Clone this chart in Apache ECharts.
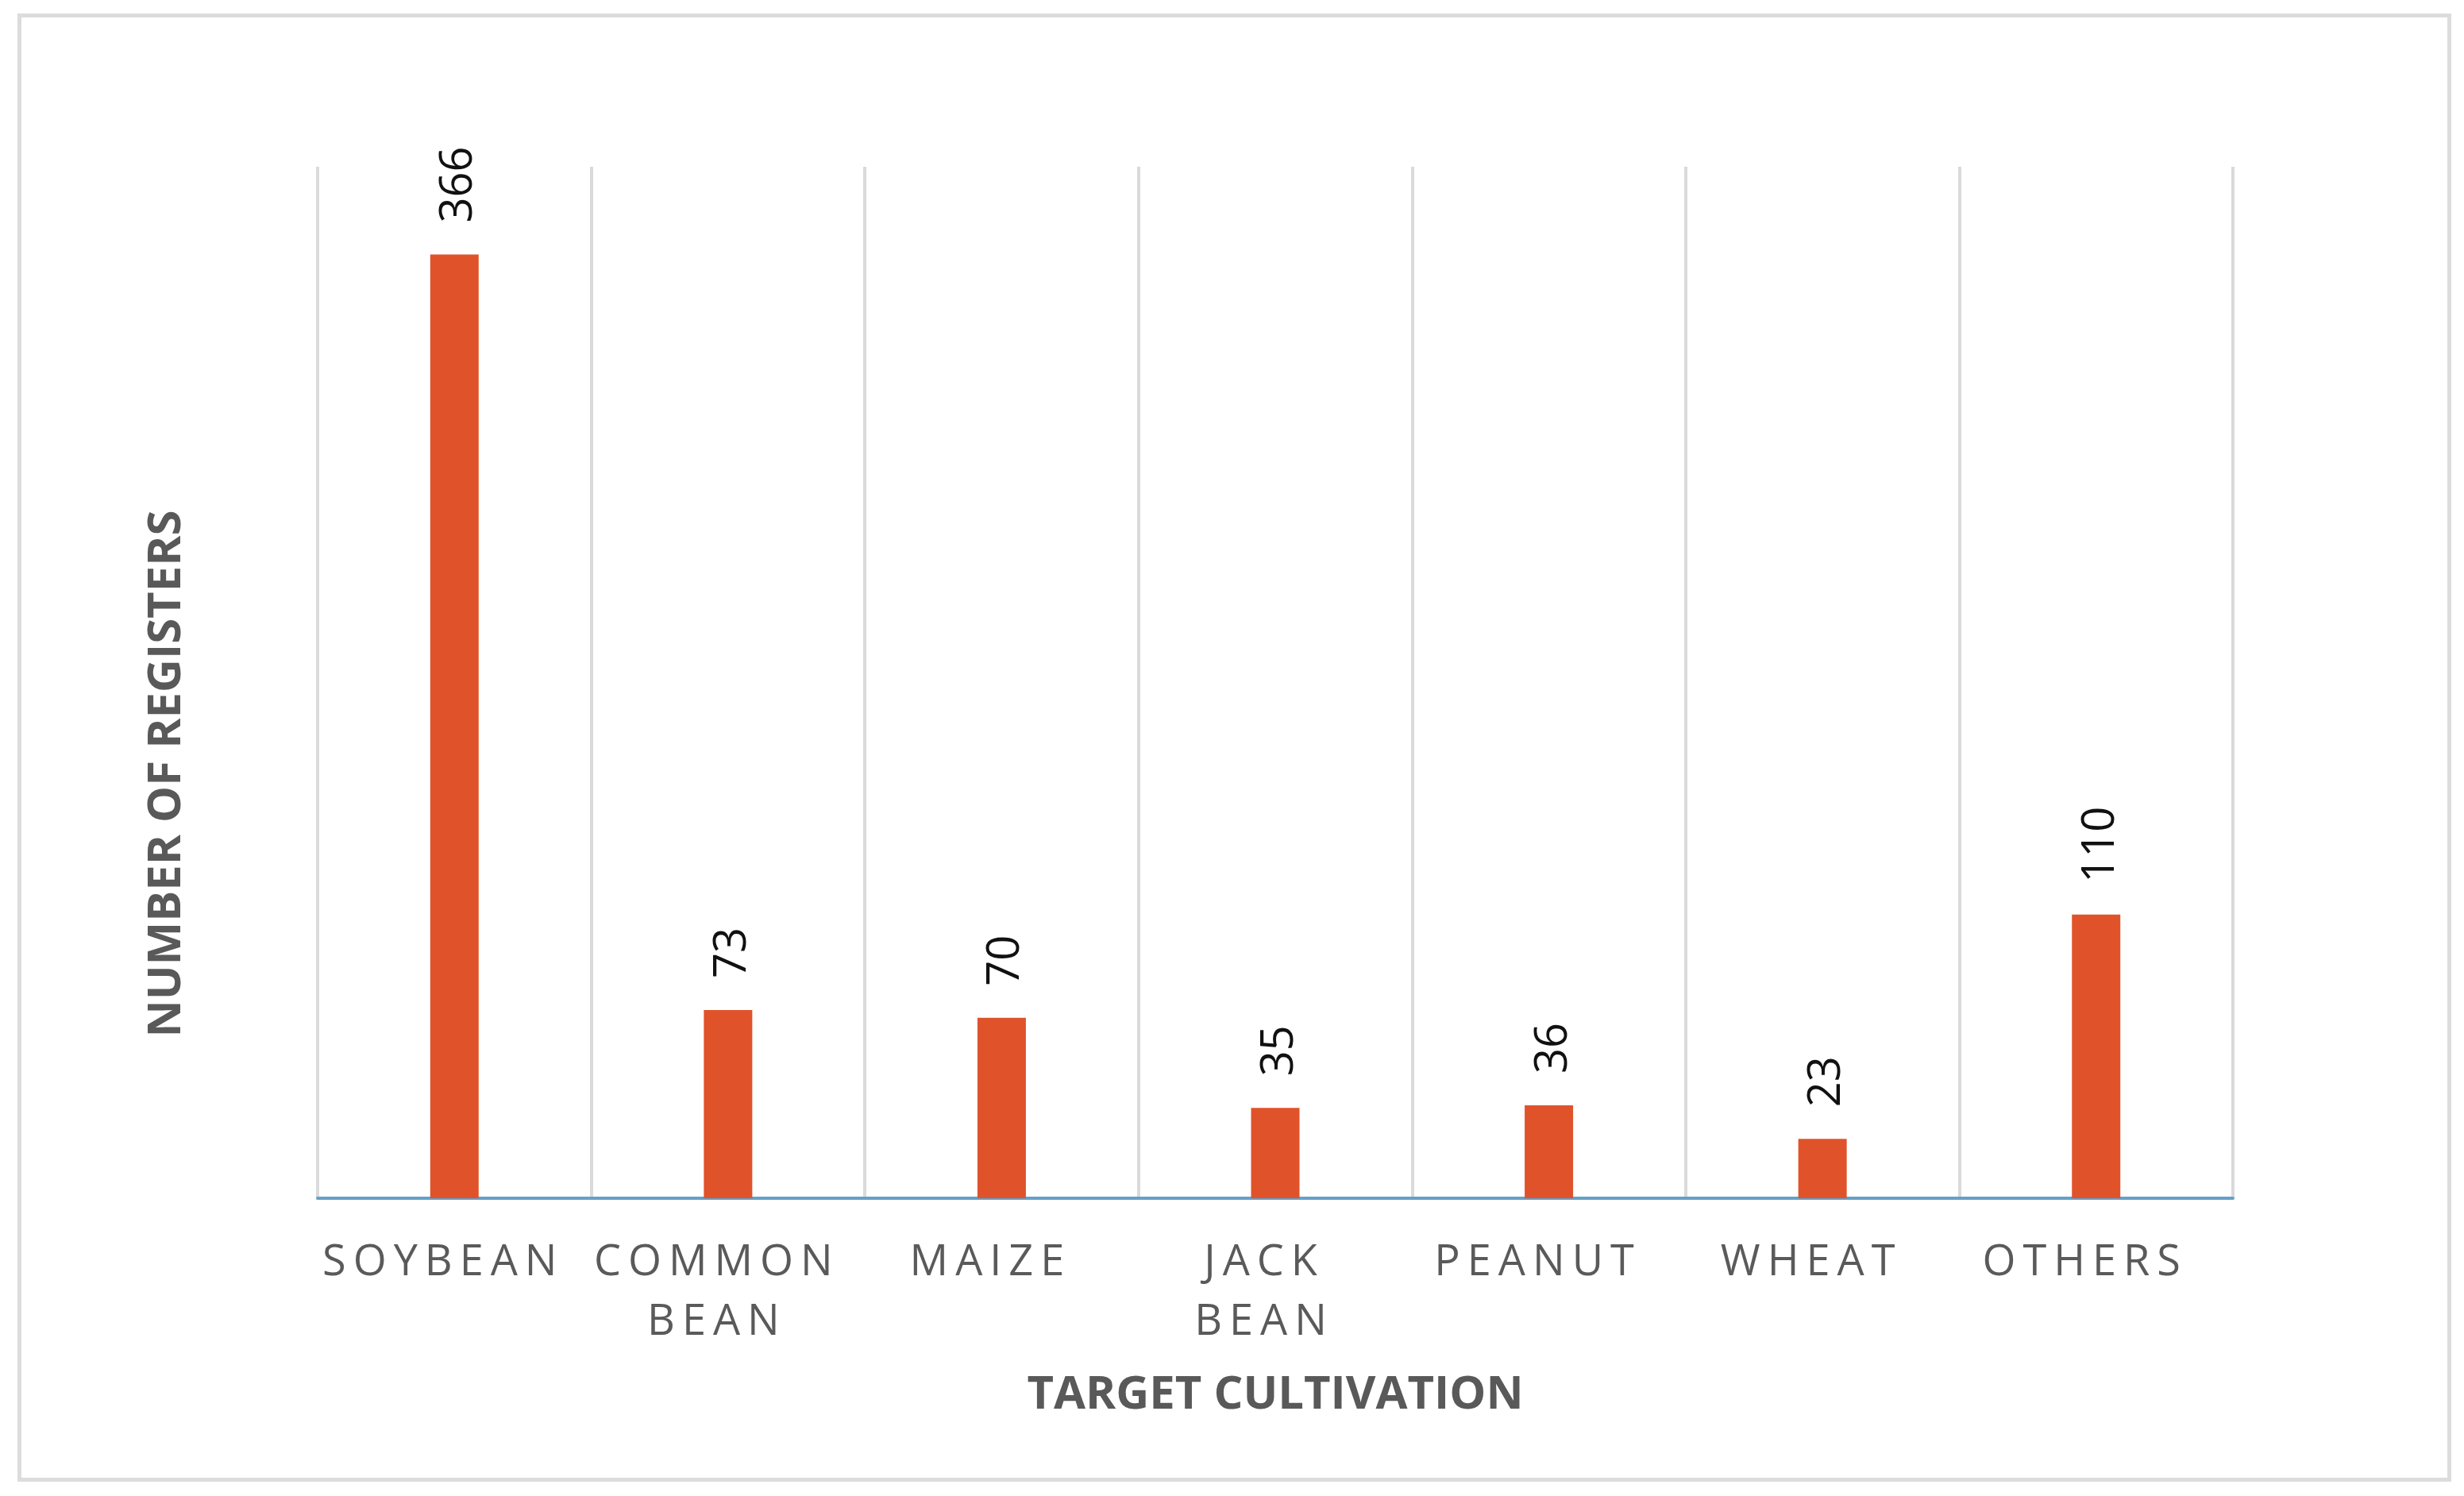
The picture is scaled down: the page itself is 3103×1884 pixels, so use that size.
<!DOCTYPE html>
<html>
<head>
<meta charset="utf-8">
<title>Target cultivation</title>
<script src="https://cdn.jsdelivr.net/npm/echarts@6/dist/echarts.min.js"></script>
<style>
  html, body { margin: 0; padding: 0; background: #fff; }
  #main { width: 3103px; height: 1884px; }
  /* category labels are letter-spaced in the original */
  #main text[fill="#5a5a5a"] { letter-spacing: 9px; }
</style>
</head>
<body>
<div id="main"></div>
<script>
// categories on the x axis
const categories = ['SOYBEAN', 'COMMON\nBEAN', 'MAIZE', 'JACK\nBEAN', 'PEANUT', 'WHEAT', 'OTHERS']
// number of registers per crop
const registers = [366, 73, 70, 35, 36, 23, 110]
const yMax = 400

const chart = echarts.init(document.getElementById('main'), null, { renderer: 'svg' })

const option = {
  backgroundColor: '#fff',
  animation: false,
  // light frame round the whole chart
  graphic: [{
    type: 'rect',
    left: 22,
    top: 17,
    shape: { width: 3060, height: 1844 },
    style: { fill: 'none', stroke: '#dcdcdc', lineWidth: 5 }
  }],
  grid: {
    left: 400,
    right: 291,
    top: 210,
    bottom: 375
  },
  xAxis: {
    type: 'category',
    data: categories,
    name: 'TARGET CULTIVATION',
    nameLocation: 'middle',
    nameGap: 213,
    nameTextStyle: {
      color: '#595959',
      fontFamily: 'Open Sans',
      fontWeight: 'bold',
      fontSize: 58
    },
    axisLine: {
      show: true,
      lineStyle: { color: '#65a0c9', width: 4 }
    },
    axisTick: { show: false },
    axisLabel: {
      color: '#5a5a5a',
      fontFamily: 'Open Sans',
      fontSize: 54,
      lineHeight: 75,
      margin: 38,
      padding: [0, 28, 0, 0],
      interval: 0
    },
    splitLine: {
      show: true,
      lineStyle: { color: '#dadada', width: 4 }
    }
  },
  yAxis: {
    type: 'value',
    min: 0,
    max: yMax,
    name: 'NUMBER OF REGISTERS',
    nameLocation: 'middle',
    nameGap: 167,
    nameRotate: 90,
    nameTextStyle: {
      color: '#595959',
      fontFamily: 'Open Sans',
      fontWeight: 'bold',
      fontSize: 58,
      padding: [0, 230, 0, 0]
    },
    axisLine: { show: false },
    axisTick: { show: false },
    axisLabel: { show: false },
    splitLine: { show: false }
  },
  series: [{
    type: 'bar',
    data: registers,
    barWidth: 61,
    itemStyle: { color: '#e0532a' },
    label: {
      show: true,
      position: 'top',
      rotate: 90,
      align: 'left',
      verticalAlign: 'middle',
      distance: 40,
      color: '#111',
      fontFamily: 'Open Sans',
      fontSize: 56
    }
  }]
}
chart.setOption(option)
</script>
</body>
</html>
